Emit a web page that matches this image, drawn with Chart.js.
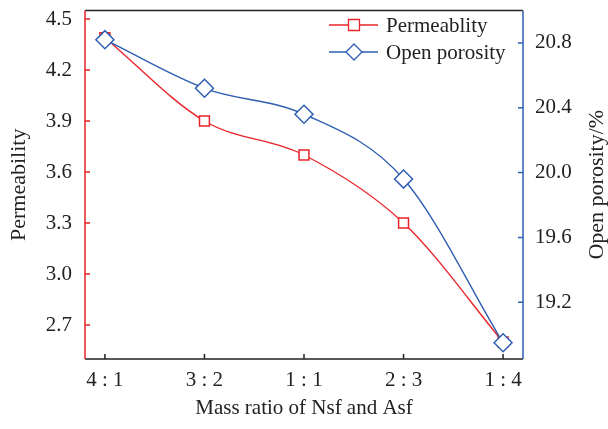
<!DOCTYPE html>
<html>
<head>
<meta charset="utf-8">
<script src="https://cdn.jsdelivr.net/npm/chart.js@4.4.0/dist/chart.umd.min.js"></script>
<style>
  html, body { margin: 0; padding: 0; background: #fff; }
  #wrap { width: 608px; height: 429px; }
</style>
</head>
<body>
<div id="wrap"><canvas id="ratioChart" width="608" height="429"></canvas></div>
<script>
const ratios = ['4 : 1', '3 : 2', '1 : 1', '2 : 3', '1 : 4']
const permeability = [4.39, 3.9, 3.7, 3.3, 2.6]
const openPorosity = [20.82, 20.52, 20.36, 19.96, 18.95]
const leftTicks = [2.7, 3.0, 3.3, 3.6, 3.9, 4.2, 4.5]
const rightTicks = [19.2, 19.6, 20.0, 20.4, 20.8]

const RED = '#e8242a'
const BLUE = '#2f5fb3'
const INK = '#222'
const FONT = 'Liberation Serif'

const toPoints = values => values.map((v, i) => ({ x: i, y: v }))

// axis lines, inward tick marks, right title and the legend
const framePlugin = {
  id: 'frame',
  afterDatasetsDraw(chart) {
    const { ctx, chartArea: a, scales } = chart
    ctx.save()
    ctx.lineWidth = 1.5
    ctx.strokeStyle = INK
    ctx.beginPath()
    ctx.moveTo(a.left, a.top); ctx.lineTo(a.right, a.top)
    ctx.moveTo(a.left, a.bottom); ctx.lineTo(a.right, a.bottom)
    scales.x.ticks.forEach(t => {
      const x = scales.x.getPixelForValue(t.value)
      ctx.moveTo(x, a.bottom); ctx.lineTo(x, a.bottom - 5)
    })
    ctx.stroke()

    ctx.strokeStyle = RED
    ctx.beginPath()
    ctx.moveTo(a.left, a.top); ctx.lineTo(a.left, a.bottom)
    scales.y.ticks.forEach(t => {
      const y = scales.y.getPixelForValue(t.value)
      ctx.moveTo(a.left, y); ctx.lineTo(a.left + 5, y)
    })
    ctx.stroke()

    ctx.strokeStyle = BLUE
    ctx.beginPath()
    ctx.moveTo(a.right, a.top); ctx.lineTo(a.right, a.bottom)
    scales.y2.ticks.forEach(t => {
      const y = scales.y2.getPixelForValue(t.value)
      ctx.moveTo(a.right, y); ctx.lineTo(a.right - 5, y)
    })
    ctx.stroke()

    // right axis title reads bottom to top
    ctx.fillStyle = INK
    ctx.font = '22px "' + FONT + '"'
    ctx.textAlign = 'center'
    ctx.textBaseline = 'middle'
    ctx.translate(597, (a.top + a.bottom) / 2)
    ctx.rotate(-Math.PI / 2)
    ctx.fillText('Open porosity/%', 0, 0)
    ctx.setTransform(1, 0, 0, 1, 0, 0)

    // legend
    const items = [
      { label: 'Permeablity', color: RED, shape: 'square', y: 25 },
      { label: 'Open porosity', color: BLUE, shape: 'diamond', y: 52 }
    ]
    ctx.font = '21px "' + FONT + '"'
    ctx.textAlign = 'left'
    items.forEach(it => {
      ctx.strokeStyle = it.color
      ctx.lineWidth = 1.3
      ctx.beginPath()
      ctx.moveTo(329, it.y); ctx.lineTo(378, it.y)
      ctx.stroke()
      ctx.fillStyle = '#fff'
      ctx.beginPath()
      if (it.shape === 'square') {
        ctx.rect(348.5, it.y - 5.5, 11, 11)
      } else {
        ctx.moveTo(354, it.y - 8); ctx.lineTo(362, it.y)
        ctx.lineTo(354, it.y + 8); ctx.lineTo(346, it.y)
        ctx.closePath()
      }
      ctx.fill(); ctx.stroke()
      ctx.fillStyle = INK
      ctx.fillText(it.label, 386, it.y + 1)
    })
    ctx.restore()
  }
}

const fixedTicks = list => scale => { scale.ticks = list.map(v => ({ value: v })) }
const fitY = s => { s.width = 85; s.paddingTop = 0; s.paddingBottom = 0 }
const fitX = s => { s.height = 70; s.paddingLeft = 0; s.paddingRight = 0 }
const tickFont = { family: FONT, size: 21 }

new Chart(document.getElementById('ratioChart'), {
  type: 'line',
  data: {
    datasets: [
      {
        label: 'Open porosity',
        data: toPoints(openPorosity),
        yAxisID: 'y2',
        borderColor: BLUE,
        borderWidth: 1.4,
        pointStyle: 'rectRot',
        pointRadius: 9,
        pointBorderWidth: 1.5,
        pointBackgroundColor: '#fff',
        pointBorderColor: BLUE,
        cubicInterpolationMode: 'monotone',
        clip: false,
        order: 1
      },
      {
        label: 'Permeablity',
        data: toPoints(permeability),
        yAxisID: 'y',
        borderColor: RED,
        borderWidth: 1.4,
        pointStyle: 'rect',
        pointRadius: 7,
        pointBorderWidth: 1.5,
        pointBackgroundColor: '#fff',
        pointBorderColor: RED,
        cubicInterpolationMode: 'monotone',
        clip: false,
        order: 2
      }
    ]
  },
  options: {
    responsive: false,
    animation: false,
    layout: { padding: { top: 8, left: 0, right: 0, bottom: 0 } },
    plugins: { legend: { display: false }, tooltip: { enabled: false } },
    scales: {
      x: {
        type: 'linear',
        min: -0.2,
        max: 4.2,
        afterBuildTicks: fixedTicks([0, 1, 2, 3, 4]),
        afterFit: fitX,
        grid: { display: false },
        border: { display: false },
        ticks: {
          padding: 1,
          color: INK,
          font: tickFont,
          maxRotation: 0,
          callback: v => ratios[v]
        },
        title: {
          display: true,
          text: 'Mass ratio of Nsf and Asf',
          color: INK,
          font: { family: FONT, size: 21 },
          padding: { top: 0, bottom: 8 }
        }
      },
      y: {
        position: 'left',
        min: 2.5,
        max: 4.55,
        afterBuildTicks: fixedTicks(leftTicks),
        afterFit: fitY,
        grid: { display: false },
        border: { display: false },
        ticks: {
          padding: 5,
          color: INK,
          font: tickFont,
          callback: v => v.toFixed(1)
        },
        title: {
          display: true,
          text: 'Permeability',
          color: INK,
          font: { family: FONT, size: 22 },
          padding: { top: 6, bottom: 0 }
        }
      },
      y2: {
        position: 'right',
        min: 18.85,
        max: 21.0,
        afterBuildTicks: fixedTicks(rightTicks),
        afterFit: fitY,
        grid: { display: false },
        border: { display: false },
        ticks: {
          padding: 4,
          color: INK,
          font: tickFont,
          callback: v => v.toFixed(1)
        }
      }
    }
  },
  plugins: [framePlugin]
})
</script>
</body>
</html>
